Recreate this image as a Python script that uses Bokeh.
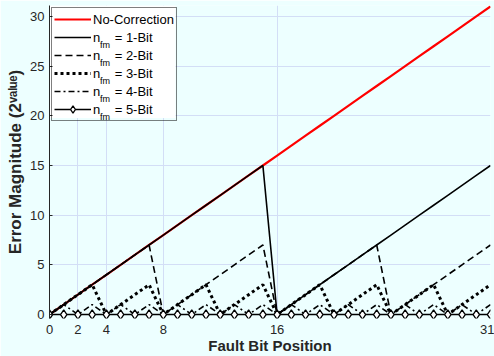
from bokeh.plotting import figure
from bokeh.models import Range1d, FixedTicker, Legend, LegendItem, ColumnDataSource
from bokeh.core.properties import value
from bokeh.embed import file_html
from bokeh.resources import INLINE

# ---- data ----
bit_positions = [0, 1, 2, 3, 4, 5, 6, 7, 8, 9, 10, 11, 12, 13, 14, 15,
                 16, 17, 18, 19, 20, 21, 22, 23, 24, 25, 26, 27, 28, 29, 30, 31]
no_correction = [0, 1, 2, 3, 4, 5, 6, 7, 8, 9, 10, 11, 12, 13, 14, 15,
                 16, 17, 18, 19, 20, 21, 22, 23, 24, 25, 26, 27, 28, 29, 30, 31]
fm_1bit = [0, 1, 2, 3, 4, 5, 6, 7, 8, 9, 10, 11, 12, 13, 14, 15,
           0, 1, 2, 3, 4, 5, 6, 7, 8, 9, 10, 11, 12, 13, 14, 15]
fm_2bit = [0, 1, 2, 3, 4, 5, 6, 7, 0, 1, 2, 3, 4, 5, 6, 7,
           0, 1, 2, 3, 4, 5, 6, 7, 0, 1, 2, 3, 4, 5, 6, 7]
fm_3bit = [0, 1, 2, 3, 0, 1, 2, 3, 0, 1, 2, 3, 0, 1, 2, 3,
           0, 1, 2, 3, 0, 1, 2, 3, 0, 1, 2, 3, 0, 1, 2, 3]
fm_4bit = [0, 1, 0, 1, 0, 1, 0, 1, 0, 1, 0, 1, 0, 1, 0, 1,
           0, 1, 0, 1, 0, 1, 0, 1, 0, 1, 0, 1, 0, 1, 0, 1]
fm_5bit = [0, 0, 0, 0, 0, 0, 0, 0, 0, 0, 0, 0, 0, 0, 0, 0,
           0, 0, 0, 0, 0, 0, 0, 0, 0, 0, 0, 0, 0, 0, 0, 0]

x_ticks = [0, 2, 4, 8, 16, 31]
y_ticks = [0, 5, 10, 15, 20, 25, 30]

legend_names = ["No-Correction", "1-Bit", "2-Bit", "3-Bit", "4-Bit", "5-Bit"]
x_title = "Fault Bit Position"
y_title = "Error Magnitude (2\u1d5b\u1d43\u02e1\u1d58\u1d49)"

BG = "#EDFFFF"
GRID = "#D3DEF6"
INK = "#262626"
FONT = "Liberation Sans"

# plot frame placement (pixels in the 494x356 canvas)
W, H = 494, 356
FL, FR, FT, FB = 49, 490, 5, 322

x_range = Range1d(0, 31)
y_range = Range1d(-0.4, 31.1)
p = figure(width=W, height=H, output_backend="svg", toolbar_location=None,
           x_range=x_range, y_range=y_range,
           min_border_left=FL, min_border_right=W - FR, min_border_top=FT,
           min_border_bottom=H - FB,
           background_fill_color=BG, border_fill_color=BG,
           outline_line_color=None)


def px_x(px):
    """canvas pixel column -> data x"""
    return x_range.start + (px - FL) * (x_range.end - x_range.start) / (FR - FL)


def px_y(py):
    """canvas pixel row -> data y"""
    return y_range.end - (py - FT) * (y_range.end - y_range.start) / (FB - FT)


# axes
p.xaxis.ticker = FixedTicker(ticks=x_ticks)
p.yaxis.ticker = FixedTicker(ticks=y_ticks)
for ax in (p.xaxis, p.yaxis):
    ax.major_label_text_font = FONT
    ax.major_label_text_font_size = "13px"
    ax.major_label_text_color = INK
    ax.minor_tick_line_color = None
    ax.axis_label_text_font = FONT
    ax.axis_label_text_font_style = "bold"
    ax.axis_label_text_color = INK
p.xaxis.axis_label = x_title
p.yaxis.axis_label = y_title
p.xaxis.axis_label_text_font_size = "15px"
p.yaxis.axis_label_text_font_size = "17px"
p.xaxis.axis_line_color = None
p.xaxis.major_tick_line_color = None
p.xaxis.major_label_standoff = 0
p.xaxis.axis_label_standoff = 0
p.yaxis.axis_line_color = INK
p.yaxis.major_tick_line_color = INK
p.yaxis.major_tick_in = 3
p.yaxis.major_tick_out = 0
p.yaxis.major_label_standoff = 5
p.yaxis.axis_label_standoff = 2

p.xgrid.grid_line_color = GRID
p.ygrid.grid_line_color = GRID

# series
r0 = p.line(bit_positions, no_correction, line_color="#FF0000", line_width=2.2)
r1 = p.line(bit_positions, fm_1bit, line_color="black", line_width=1.6)
r2 = p.line(bit_positions, fm_2bit, line_color="black", line_width=1.6,
            line_dash="7 4")
r3 = p.line(bit_positions, fm_3bit, line_color="black", line_width=3,
            line_dash="3 3")
r4 = p.line(bit_positions, fm_4bit, line_color="black", line_width=1.6,
            line_dash="6 3 2 3")
r5 = p.line(bit_positions, fm_5bit, line_color="black", line_width=1.6)
r5m = p.scatter(bit_positions, fm_5bit, marker="diamond", size=9.5,
                fill_color="white", line_color="black", line_width=1.3)

# legend: opaque white panel drawn as a glyph (so the subscripts can sit on it),
# then a transparent Bokeh legend with border on top
LEG_L, LEG_T, LEG_R, LEG_B = 51, 7, 175, 119
p.quad(left=[px_x(FL)], right=[px_x(LEG_R)], top=[px_y(FT)],
       bottom=[px_y(LEG_B)], fill_color="white", line_color=None)

n_sub = len(legend_names) - 1
sub_src = ColumnDataSource(dict(
    x=[px_x(99.5)] * n_sub,
    y=[px_y(45.5 + 18 * i) for i in range(n_sub)],
    t=["fm"] * n_sub,
))
p.text(x="x", y="y", text="t", source=sub_src,
       text_font=value(FONT), text_font_size="9px",
       text_color="black", text_align="left", text_baseline="alphabetic")

gap = "\u00a0" * 4
items = [LegendItem(label=legend_names[0], renderers=[r0])]
for name, rr in zip(legend_names[1:], [[r1], [r2], [r3], [r4], [r5, r5m]]):
    items.append(LegendItem(label="n" + gap + "= " + name, renderers=rr))

legend = Legend(items=items, location="top_left", margin=2, padding=2,
                spacing=0, label_height=18, glyph_height=18, glyph_width=37,
                label_standoff=2, label_text_font=FONT,
                label_text_font_size="13px", label_text_color="black",
                border_line_color="black", border_line_width=1,
                background_fill_alpha=0.0)
p.add_layout(legend)

open("out.html", "w").write(file_html(p, INLINE))
